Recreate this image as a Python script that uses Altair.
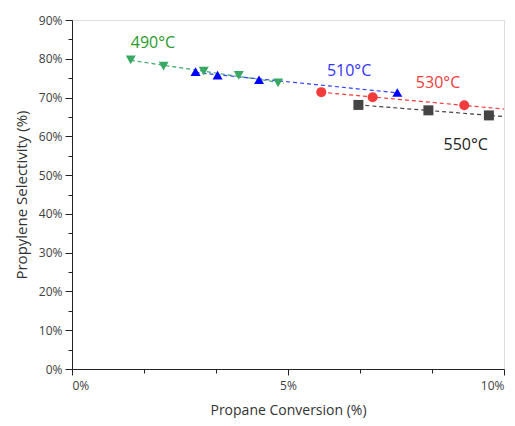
import altair as alt
import pandas as pd

# ---- data ----
series = ["490°C", "510°C", "530°C", "550°C"]
conv_490 = [1.36, 2.12, 3.05, 3.86, 4.77]
sel_490 = [79.7, 78.1, 76.8, 75.7, 73.8]
conv_510 = [2.86, 3.37, 4.33, 7.53]
sel_510 = [76.7, 75.8, 74.6, 71.3]
conv_530 = [5.77, 6.96, 9.08]
sel_530 = [71.4, 70.1, 68.0]
conv_550 = [6.63, 8.25, 9.65]
sel_550 = [68.1, 66.7, 65.4]
fit_extent = [[1.36, 4.9], [2.86, 7.53], [5.77, 10.0], [6.63, 10.2]]

label_x = [1.36, 5.90, 7.96, 8.60]
label_y = [84.1, 76.9, 73.8, 57.8]

marker_colors = ["#3aa864", "#0000ff", "#f23b3b", "#444444"]
text_colors = ["#2a9a2a", "#3333ff", "#f23b3b", "#222222"]
line_colors = ["#3aa864", "#3344ff", "#f23b3b", "#444444"]
shapes = ["triangle-down", "triangle-up", "circle", "square"]

x_ticks = [0, 1.6667, 3.3333, 5, 6.6667, 8.3333, 10]
y_ticks = list(range(0, 95, 5))

rows = []
for s, xs, ys in zip(series, [conv_490, conv_510, conv_530, conv_550],
                     [sel_490, sel_510, sel_530, sel_550]):
    for a, b in zip(xs, ys):
        rows.append({"series": s, "conv": a, "sel": b})
df = pd.DataFrame(rows)
labels = pd.DataFrame({"series": series, "conv": label_x, "sel": label_y})

x_scale = alt.Scale(domain=[0, 10], nice=False)
y_scale = alt.Scale(domain=[0, 90], nice=False)

x_axis = alt.Axis(
    values=x_ticks,
    labelExpr="abs(datum.value - round(datum.value/5)*5) < 0.01 ? datum.value + '%' : ''",
    tickSize={"condition": {"test": "abs(datum.value - round(datum.value/5)*5) < 0.01", "value": 6}, "value": 4},
    grid=False, title="Propane Conversion (%)", titlePadding=12,
    labelFontSize=12, titleFontSize=14, labelColor="#404040", titleColor="#333333",
    labelFont="Open Sans", titleFont="Open Sans", titleFontWeight="normal",
    domainColor="#222222", tickColor="#222222", labelPadding=5,
)
y_axis = alt.Axis(
    values=y_ticks,
    labelExpr="datum.value % 10 === 0 ? datum.value + '%' : ''",
    tickSize={"condition": {"test": "datum.value % 10 === 0", "value": 7}, "value": 4},
    grid=False, title="Propylene Selectivity (%)", titlePadding=9,
    labelFontSize=12, titleFontSize=15, labelColor="#404040", titleColor="#333333",
    labelFont="Open Sans", titleFont="Open Sans", titleFontWeight="normal",
    domainColor="#222222", tickColor="#222222", labelPadding=3,
)

base = alt.Chart(df)

lines = []
for s, ext, col in zip(series, fit_extent, line_colors):
    lines.append(
        base.transform_filter(alt.datum.series == s)
        .transform_regression("conv", "sel", extent=ext)
        .mark_line(strokeDash=[4, 3], strokeWidth=1.2, color=col, clip=True)
        .encode(x=alt.X("conv:Q", scale=x_scale, axis=x_axis),
                y=alt.Y("sel:Q", scale=y_scale, axis=y_axis))
    )

points = base.mark_point(filled=True, size=100, opacity=1).encode(
    x=alt.X("conv:Q", scale=x_scale, axis=x_axis),
    y=alt.Y("sel:Q", scale=y_scale, axis=y_axis),
    shape=alt.Shape("series:N", scale=alt.Scale(domain=series, range=shapes), legend=None),
    color=alt.Color("series:N", scale=alt.Scale(domain=series, range=marker_colors), legend=None),
)

texts = alt.Chart(labels).mark_text(align="left", baseline="middle", fontSize=16,
                                    font="Open Sans").encode(
    x=alt.X("conv:Q", scale=x_scale, axis=x_axis),
    y=alt.Y("sel:Q", scale=y_scale, axis=y_axis),
    text="series:N",
    color=alt.Color("series:N", scale=alt.Scale(domain=series, range=text_colors), legend=None),
)

chart = alt.layer(*lines, points, texts).resolve_scale(color="independent").properties(
    width=432, height=349,
    autosize=alt.AutoSizeParams(type="none"),
    padding={"left": 64, "top": 12, "right": 3, "bottom": 49},
).configure_view(stroke="#222222", strokeWidth=1).configure(background="white")

chart.save("out.html", embed_options={"renderer": "svg", "actions": False})
